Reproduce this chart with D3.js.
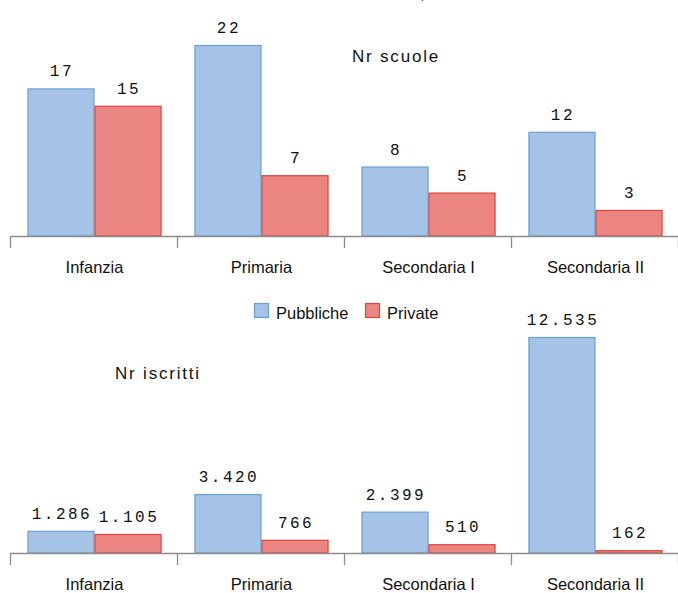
<!DOCTYPE html>
<html><head><meta charset="utf-8">
<script src="https://cdn.jsdelivr.net/npm/d3@7"></script>
<style>
html,body{margin:0;padding:0;background:#fff;}
svg{display:block;}
</style></head>
<body>
<svg id="c" width="678" height="593"></svg>
<script>
const categories = ["Infanzia", "Primaria", "Secondaria I", "Secondaria II"];
const seriesNames = ["Pubbliche", "Private"];
const scuolePubbliche = [17, 22, 8, 12];
const scuolePrivate = [15, 7, 5, 3];
const iscrittiPubbliche = [1286, 3420, 2399, 12535];
const iscrittiPrivate = [1105, 766, 510, 162];

const colors = {
  fill: ["#a4c3e5", "#eb8581"],
  stroke: ["#6c9ed6", "#e2433d"]
};

const svg = d3.select("#c");
const fmt = d3.formatLocale({decimal: ",", thousands: ".", grouping: [3], currency: ["€", ""]}).format(",d");

// partial cropped title fragment at the top
svg.append("text").attr("x", 420).attr("y", -1).attr("font-family", "Liberation Sans, Arial, sans-serif")
  .attr("font-size", 17).attr("fill", "#222").text(",");

function panel(pub, priv, yBase, yTopVal, maxVal, title, titlePos) {
  const x = d3.scaleBand().domain(categories).range([11, 679]).paddingInner(0).paddingOuter(0);
  const inner = d3.scaleBand().domain([0, 1]).range([0, x.bandwidth()]).paddingInner(0).paddingOuter(0.245);
  const y = d3.scaleLinear().domain([0, maxVal]).range([yBase, yTopVal]);
  const g = svg.append("g");
  const data = [];
  categories.forEach((c, i) => {
    data.push({cat: c, s: 0, v: pub[i]});
    data.push({cat: c, s: 1, v: priv[i]});
  });
  g.selectAll("rect").data(data).join("rect")
    .attr("x", d => x(d.cat) + inner(d.s) + 0.5)
    .attr("y", d => y(d.v) + 0.5)
    .attr("width", inner.bandwidth() - 1)
    .attr("height", d => Math.max(0, yBase - y(d.v) - 0.5))
    .attr("fill", d => colors.fill[d.s])
    .attr("stroke", d => colors.stroke[d.s])
    .attr("stroke-width", 1.2);
  g.selectAll("text.val").data(data).join("text").attr("class", "val")
    .attr("x", d => x(d.cat) + inner(d.s) + inner.bandwidth() / 2 + 1)
    .attr("y", d => y(d.v) - 12)
    .attr("text-anchor", "middle")
    .attr("font-family", "Liberation Mono, DejaVu Sans Mono, monospace")
    .attr("font-size", 16)
    .attr("letter-spacing", "2.5px")
    .attr("fill", "#111")
    .text(d => fmt(d.v));
  // axis
  const ax = svg.append("g").attr("transform", `translate(0,${yBase})`)
    .call(d3.axisBottom(x).tickSizeInner(0).tickSizeOuter(0).tickPadding(25));
  ax.select(".domain").attr("stroke", "#8c8c8c").attr("stroke-width", 1.3).attr("d", "M10.5,0.5H678");
  ax.selectAll(".tick line").remove();
  ax.selectAll(".tick text").attr("font-family", "Liberation Sans, Arial, sans-serif")
    .attr("font-size", 16.5).attr("fill", "#111").attr("dy", "0.71em");
  // category separators
  const bounds = categories.map(c => x(c)).concat([x.range()[1]]);
  ax.selectAll("line.sep").data(bounds).join("line").attr("class", "sep")
    .attr("x1", d => d - 0.5).attr("x2", d => d - 0.5).attr("y1", 0).attr("y2", 12)
    .attr("stroke", "#8c8c8c").attr("stroke-width", 1.3);
  svg.append("text").attr("x", titlePos[0]).attr("y", titlePos[1])
    .attr("font-family", "Liberation Sans, Arial, sans-serif").attr("font-size", 17)
    .attr("letter-spacing", "1.8px").attr("fill", "#111").text(title);
}

panel(scuolePubbliche, scuolePrivate, 236, 45, 22, "Nr scuole", [352, 62]);
panel(iscrittiPubbliche, iscrittiPrivate, 553, 337, 12535, "Nr iscritti", [115, 379]);

// legend
const lg = svg.append("g");
const lx = [254, 365];
seriesNames.forEach((n, i) => {
  lg.append("rect").attr("x", lx[i] + 0.5).attr("y", 303.5).attr("width", 14).attr("height", 14)
    .attr("fill", colors.fill[i]).attr("stroke", colors.stroke[i]).attr("stroke-width", 1.2);
  lg.append("text").attr("x", lx[i] + 22).attr("y", 319)
    .attr("font-family", "Liberation Sans, Arial, sans-serif").attr("font-size", 16.5)
    .attr("fill", "#111").text(n);
});
</script>
</body></html>
